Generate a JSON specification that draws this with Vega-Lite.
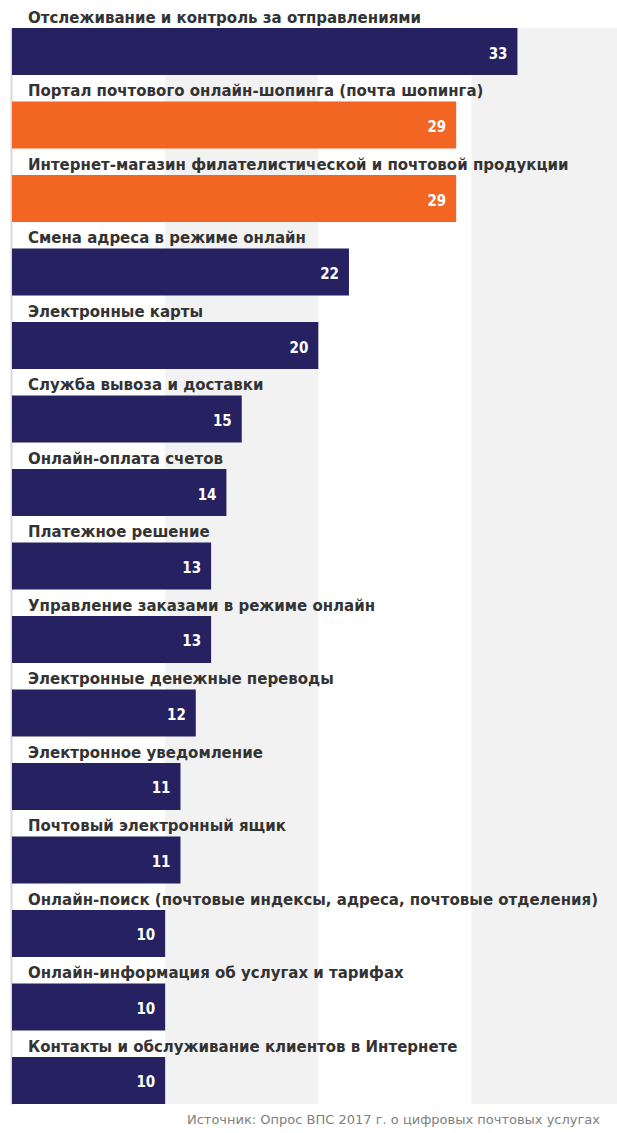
{
  "$schema": "https://vega.github.io/schema/vega-lite/v6.json",
  "autosize": "none",
  "width": 605,
  "height": 1076,
  "padding": {"left": 12, "top": 28, "right": 0, "bottom": 29},
  "background": "white",
  "config": {"view": {"stroke": null}, "font": "DejaVu Sans"},
  "title": {"text": "Источник: Опрос ВПС 2017 г. о цифровых почтовых услугах", "orient": "bottom", "anchor": "end", "fontSize": 13, "fontWeight": "normal", "color": "#808080", "offset": 10, "dx": -17, "font": "DejaVu Sans"},
  "datasets": {
    "bars": [
      {"service": "Отслеживание и контроль за отправлениями", "value": 33, "highlight": "no"},
      {"service": "Портал почтового онлайн-шопинга (почта шопинга)", "value": 29, "highlight": "yes"},
      {"service": "Интернет-магазин филателистической и почтовой продукции", "value": 29, "highlight": "yes"},
      {"service": "Смена адреса в режиме онлайн", "value": 22, "highlight": "no"},
      {"service": "Электронные карты", "value": 20, "highlight": "no"},
      {"service": "Служба вывоза и доставки", "value": 15, "highlight": "no"},
      {"service": "Онлайн-оплата счетов", "value": 14, "highlight": "no"},
      {"service": "Платежное решение", "value": 13, "highlight": "no"},
      {"service": "Управление заказами в режиме онлайн", "value": 13, "highlight": "no"},
      {"service": "Электронные денежные переводы", "value": 12, "highlight": "no"},
      {"service": "Электронное уведомление", "value": 11, "highlight": "no"},
      {"service": "Почтовый электронный ящик", "value": 11, "highlight": "no"},
      {"service": "Онлайн-поиск (почтовые индексы, адреса, почтовые отделения)", "value": 10, "highlight": "no"},
      {"service": "Онлайн-информация об услугах и тарифах", "value": 10, "highlight": "no"},
      {"service": "Контакты и обслуживание клиентов в Интернете", "value": 10, "highlight": "no"}
    ],
    "bands": [
      {"start": 10, "end": 20},
      {"start": 30, "end": 40}
    ]
  },
  "layer": [
    {
      "data": {"name": "bands"},
      "mark": {"type": "rect", "color": "#f2f2f2", "clip": true},
      "encoding": {
        "x": {"field": "start", "type": "quantitative", "scale": {"domain": [0, 39.5], "nice": false, "zero": true}, "axis": null},
        "x2": {"field": "end"}
      }
    },
    {
      "data": {"name": "bars"},
      "layer": [
        {
          "mark": {"type": "bar"},
          "encoding": {
            "y": {"field": "service", "type": "nominal", "sort": null, "scale": {"paddingInner": 0.36, "paddingOuter": 0}, "axis": {"labels": false, "ticks": false, "title": null, "domainColor": "#d9d9d9", "domainWidth": 2, "offset": 1}},
            "x": {"field": "value", "type": "quantitative"},
            "color": {"field": "highlight", "type": "nominal", "scale": {"domain": ["no", "yes"], "range": ["#262262", "#f26522"]}, "legend": null}
          }
        },
        {
          "mark": {"type": "text", "align": "right", "baseline": "middle", "dx": -10, "dy": 2, "color": "white", "fontWeight": "bold", "fontSize": 15, "font": "DejaVu Sans Condensed"},
          "encoding": {
            "y": {"field": "service", "type": "nominal", "sort": null},
            "x": {"field": "value", "type": "quantitative"},
            "text": {"field": "value", "type": "quantitative"}
          }
        },
        {
          "mark": {"type": "text", "align": "left", "baseline": "alphabetic", "dx": 16, "dy": -5, "color": "#333333", "fontSize": 15, "fontWeight": "bold"},
          "encoding": {
            "y": {"field": "service", "type": "nominal", "sort": null, "bandPosition": 0},
            "x": {"datum": 0, "type": "quantitative"},
            "text": {"field": "service", "type": "nominal"}
          }
        }
      ]
    }
  ]
}
